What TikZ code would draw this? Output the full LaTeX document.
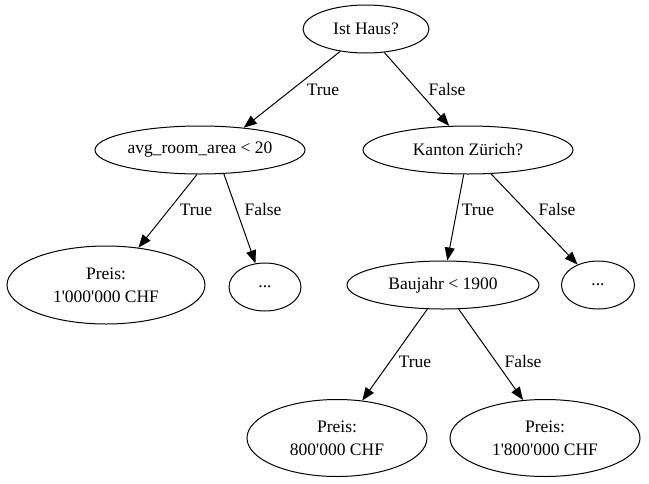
\documentclass[tikz,border=0pt]{standalone}
\usepackage{fontspec}
\setmainfont{Liberation Serif}
\usepackage{tikz}
\usetikzlibrary{shapes.geometric}
\usetikzlibrary{arrows.meta}
\newcommand{\ap}{\textquotesingle}
\tikzset{dnode/.style = {draw, ellipse, inner sep = 0, line width = 1pt, align = center, minimum height = 48}}
\tikzset{arr/.style = {line width = 1pt, -{Triangle[length = 13pt, width = 10pt]}}}
\tikzset{elabel/.style = {inner sep = 0}}

\begin{document}
\begin{tikzpicture}[x=1pt, y=-1pt, font=\fontsize{17.5}{23}\selectfont]
    \useasboundingbox (0, 0) rectangle (649, 483);

    \node [dnode, minimum width = 126] (ist) at (366, 29) {Ist Haus?};
    \node [dnode, minimum width = 210] (avg) at (200, 150) {avg\_room\_area < 20};
    \node [dnode, minimum width = 210] (kanton) at (468, 150) {Kanton Zürich?};
    \node [dnode, minimum width = 198, minimum height = 78] (preisA) at (106, 285) {Preis:\\1\ap000\ap000 CHF};
    \node [dnode, minimum width = 72] (dotsA) at (265, 287) {...};
    \node [dnode, minimum width = 192] (baujahr) at (443, 285) {Baujahr < 1900};
    \node [dnode, minimum width = 73] (dotsB) at (598, 285) {...};
    \node [dnode, minimum width = 180, minimum height = 77] (preisB) at (337, 438) {Preis:\\800\ap000 CHF};
    \node [dnode, minimum width = 190, minimum height = 77] (preisC) at (545, 438) {Preis:\\1\ap800\ap000 CHF};

    \draw [arr] (ist.221) -- (avg.27);
    \draw [arr] (ist.308) -- (kanton.128);
    \draw [arr] (avg.263) -- (preisA.49);
    \draw [arr] (avg.315) -- (dotsA.112);
    \draw [arr] (kanton.260) -- (baujahr.80);
    \draw [arr] (kanton.314) -- (dotsB.135);
    \draw [arr] (baujahr.237) -- (preisB.56);
    \draw [arr] (baujahr.303) -- (preisC.120);

    \node [elabel] (t1) at (323, 90) {True};
    \node [elabel] (f1) at (447, 90) {False};
    \node [elabel] (t2) at (196, 210) {True};
    \node [elabel] (f2) at (263, 210) {False};
    \node [elabel] (t3) at (478, 210) {True};
    \node [elabel] (f3) at (557, 210) {False};
    \node [elabel] (t4) at (415, 362) {True};
    \node [elabel] (f4) at (523, 362) {False};
\end{tikzpicture}
\end{document}
